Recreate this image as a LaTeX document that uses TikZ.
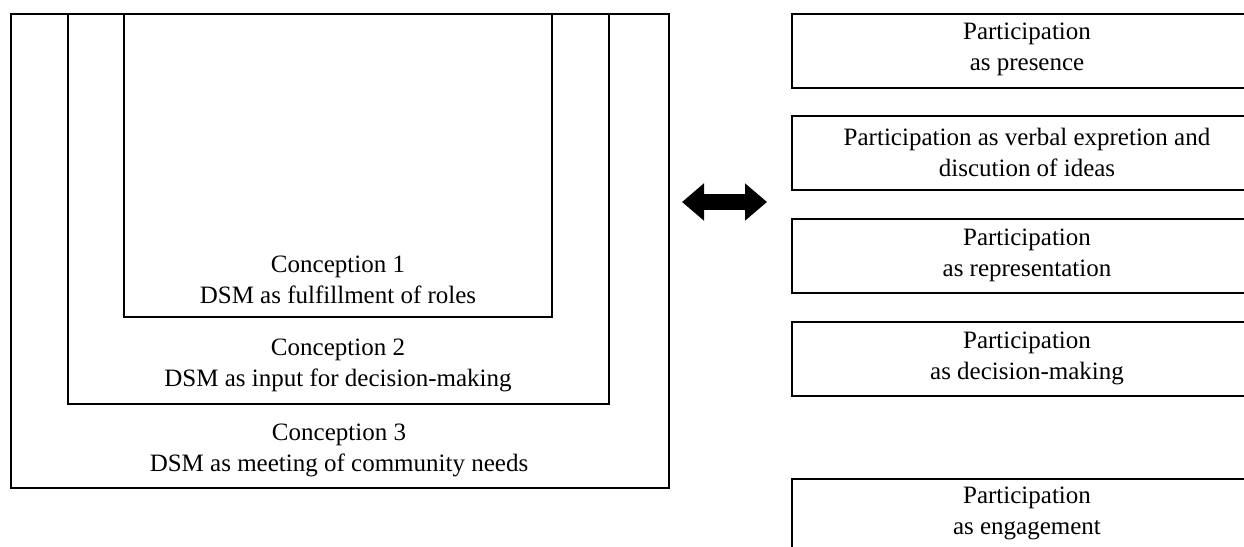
\documentclass[tikz,border=0pt]{standalone}
\usepackage{fontspec}
\setmainfont{Liberation Serif}
\usetikzlibrary{arrows.meta,positioning}

\begin{document}
\begin{tikzpicture}[x=1pt,y=-1pt, frame/.style={rectangle,draw,line width=2pt,inner sep=0pt}, txt/.style={align=center,inner sep=0pt,font=\fontsize{25}{31}\selectfont}, line/.style={line width=16pt,{Triangle[length=22pt,width=36pt]}-{Triangle[length=22pt,width=36pt]}}]
\clip (0,0) rectangle (1244,546);
% conceptions, nested
\node[frame,minimum width=658,minimum height=474,anchor=north west] (c3) at (10,13) {};
\node[frame,minimum width=541,minimum height=390,anchor=north west] (c2) at (67,13) {};
\node[frame,minimum width=428,minimum height=303,anchor=north west] (c1) at (123,13) {};
\node[txt] (t1) at (338,280) {Conception 1\\DSM as fulfillment of roles};
\node[txt] (t2) at (338,365) {Conception 2\\DSM as input for decision-making};
\node[txt] (t3) at (339,450) {Conception 3\\DSM as meeting of community needs};
% participation
\node[frame,minimum width=470,minimum height=74,anchor=north west] (p1) at (791,13) {};
\node[frame,minimum width=470,minimum height=74,anchor=north west] (p2) at (791,115) {};
\node[frame,minimum width=470,minimum height=74,anchor=north west] (p3) at (791,218) {};
\node[frame,minimum width=470,minimum height=74,anchor=north west] (p4) at (791,321) {};
\node[frame,minimum width=470,minimum height=90,anchor=north west] (p5) at (791,478) {};
\node[txt] (s1) at (1027,49) {Participation\\as presence};
\node[txt] (s2) at (1027,152) {Participation as verbal expretion and\\discution of ideas};
\node[txt] (s3) at (1027,255) {Participation\\as representation};
\node[txt] (s4) at (1027,358) {Participation\\as decision-making};
\node[txt] (s5) at (1027,513) {Participation\\as engagement};
% link
\coordinate (la) at (682,202);
\coordinate (ra) at (767,202);
\draw[line] (la) -- (ra);
\end{tikzpicture}
\end{document}
